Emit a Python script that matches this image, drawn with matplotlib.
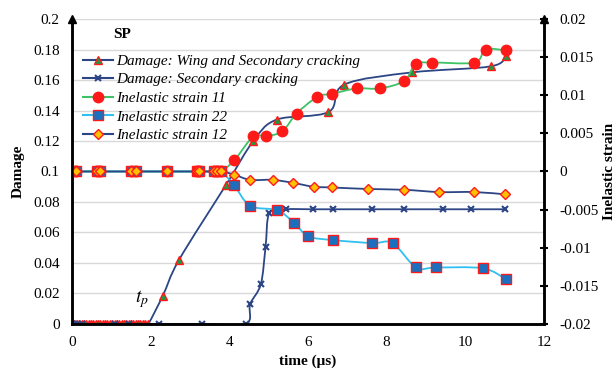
import matplotlib as mpl
mpl.use("Agg")
import matplotlib.pyplot as plt
from matplotlib.path import Path
from matplotlib.patches import PathPatch
from matplotlib.lines import Line2D
import numpy as np

mpl.rcParams["font.family"] = "Liberation Serif"
mpl.rcParams["mathtext.fontset"] = "stix"
mpl.rcParams["axes.unicode_minus"] = False

# Damage: wing and secondary cracking
wing_t = [0.00, 0.06, 0.12, 0.18, 0.24, 0.30, 0.36, 0.42, 0.48, 0.54, 0.60,
          0.66, 0.72, 0.78, 0.84, 0.90, 0.96, 1.02, 1.08, 1.14, 1.20, 1.26,
          1.32, 1.38, 1.44, 1.50, 1.56, 1.62, 1.68, 1.74, 1.80, 1.86, 1.94,
          2.31, 2.72, 3.91, 4.61, 5.20, 6.52, 6.92, 8.64, 10.65, 11.03]
wing_d = [0, 0, 0, 0, 0, 0, 0, 0, 0, 0, 0,
          0, 0, 0, 0, 0, 0, 0, 0, 0, 0, 0,
          0, 0, 0, 0, 0, 0, 0, 0, 0, 0, 0,
          0.0186, 0.042, 0.091, 0.120, 0.134, 0.139, 0.157, 0.165, 0.169, 0.176]

# Damage: secondary cracking
sec_t = [0.00, 0.06, 0.16, 0.25, 1.09, 1.46, 2.21, 3.31, 4.42, 4.53, 4.80,
         4.92, 5.02, 5.44, 6.12, 6.63, 7.64, 8.44, 9.44, 10.14, 11.01]
sec_d = [0, 0, 0, 0, 0, 0, 0, 0, 0, 0.0131, 0.026,
         0.0503, 0.073, 0.0752, 0.0752, 0.0752, 0.0752, 0.0752, 0.0752, 0.0752, 0.0752]

# Inelastic strains (right axis)
zero_t = [0.00, 0.10, 0.63, 0.71, 1.50, 1.63, 2.41, 3.17, 3.24, 3.61, 3.69, 3.80]
zero_v = [0, 0, 0, 0, 0, 0, 0, 0, 0, 0, 0, 0]

s11_t = zero_t + [4.13, 4.61, 4.93, 5.35, 5.71, 6.24, 6.62, 7.24, 7.83, 8.45,
                  8.74, 9.15, 10.23, 10.52, 11.03]
s11 = zero_v + [0.0015, 0.0046, 0.0046, 0.0053, 0.0076, 0.0098, 0.0102, 0.0109,
                0.0109, 0.0119, 0.0141, 0.0143, 0.0143, 0.0160, 0.0159]

s22_t = zero_t + [4.12, 4.53, 5.22, 5.64, 6.01, 6.63, 7.64, 8.15, 8.75, 9.25,
                  10.44, 11.03]
s22 = zero_v + [-0.0018, -0.0045, -0.0051, -0.0067, -0.0085, -0.0090, -0.0094,
                -0.0094, -0.0126, -0.0126, -0.0127, -0.0141]

s12_t = zero_t + [4.12, 4.53, 5.10, 5.63, 6.14, 6.62, 7.53, 8.44, 9.34, 10.23, 11.02]
s12 = zero_v + [-0.0004, -0.0011, -0.0011, -0.0015, -0.0020, -0.0021, -0.0023,
                -0.0024, -0.0027, -0.0027, -0.0030]

NAVY = "#2B4585"
GREEN = "#3DC365"
LBLUE = "#2EC0F0"
RED = "#FF1A1A"


# Excel-like smoothed line drawn as a bezier path through the points
def smooth_line(ax, xs, ys, color, lw=1.3):
    pts = np.column_stack([xs, ys]).astype(float)
    n = len(pts)
    verts = [pts[0]]
    codes = [Path.MOVETO]
    for i in range(n - 1):
        p0 = pts[i - 1] if i > 0 else pts[i]
        p1 = pts[i]
        p2 = pts[i + 1]
        p3 = pts[i + 2] if i + 2 < n else pts[i + 1]
        verts += [p1 + (p2 - p0) / 6, p2 - (p3 - p1) / 6, p2]
        codes += [Path.CURVE4] * 3
    ax.add_patch(PathPatch(Path(verts, codes), fill=False, edgecolor=color, lw=lw))


fig = plt.figure(figsize=(6.16, 3.74), dpi=100)
ax = fig.add_axes([0.117, 0.134, 0.766, 0.815])
ax2 = ax.twinx()

ax.set_xlim(0, 12)
ax.set_ylim(0, 0.2)
ax2.set_ylim(-0.02, 0.02)
ax.set_yticks(np.arange(0, 0.201, 0.02))
ax.set_yticklabels(["0", "0.02", "0.04", "0.06", "0.08", "0.1", "0.12", "0.14",
                    "0.16", "0.18", "0.2"])
ax2.set_yticks(np.arange(-0.02, 0.0201, 0.005))
ax2.set_yticklabels(["-0.02", "-0.015", "-0.01", "-0.005", "0", "0.005", "0.01",
                     "0.015", "0.02"])
ax.set_xticks(range(0, 13, 2))

ax.grid(axis="y", color="#D9D9D9", lw=1.0)
ax.set_axisbelow(True)

for a in (ax, ax2):
    a.spines["top"].set_visible(False)
    for s in ("left", "right", "bottom"):
        a.spines[s].set_linewidth(1.8)
        a.spines[s].set_color("black")
ax.tick_params(axis="y", length=0, pad=9, labelsize=11)
ax.tick_params(axis="x", length=0, pad=9, labelsize=11)
ax2.tick_params(axis="y", direction="inout", length=6, width=1.5, pad=8, labelsize=11)

# arrow heads on top of the vertical axes
for xa in (0, 1):
    ax.plot([xa], [1.0], marker="^", color="black", markersize=6,
            transform=ax.transAxes, clip_on=False, zorder=5)

# damage series
smooth_line(ax, wing_t, wing_d, NAVY)
ax.plot(wing_t, wing_d, ls="none", marker="^", ms=6, mfc="#1E9A40", mec=RED, mew=1.0)
smooth_line(ax, sec_t, sec_d, NAVY)
ax.plot(sec_t, sec_d, ls="none", marker="x", ms=5, mec=NAVY, mew=1.5)

# strain series
smooth_line(ax2, s11_t, s11, GREEN)
ax2.plot(s11_t, s11, ls="none", marker="o", ms=7.5, mfc=RED, mec=RED)
smooth_line(ax2, s22_t, s22, LBLUE)
ax2.plot(s22_t, s22, ls="none", marker="s", ms=6.5, mfc="#1A6FBF", mec=RED, mew=1.0)
smooth_line(ax2, s12_t, s12, NAVY)
ax2.plot(s12_t, s12, ls="none", marker="D", ms=5, mfc="#FFC000", mec=RED, mew=1.0)

handles = [
    Line2D([], [], color=NAVY, marker="^", ms=6, mfc="#1E9A40", mec=RED),
    Line2D([], [], color=NAVY, marker="x", ms=5, mec=NAVY, mew=1.5),
    Line2D([], [], color=GREEN, marker="o", ms=7.5, mfc=RED, mec=RED),
    Line2D([], [], color=LBLUE, marker="s", ms=6.5, mfc="#1A6FBF", mec=RED),
    Line2D([], [], color=NAVY, marker="D", ms=5, mfc="#FFC000", mec=RED),
]
labels = ["Damage: Wing and Secondary cracking", "Damage: Secondary cracking",
          "Inelastic strain 11", "Inelastic strain 22", "Inelastic strain 12"]
ax2.legend(handles, labels, loc="upper left", bbox_to_anchor=(0.0, 0.92),
           frameon=False, prop={"style": "italic", "size": 11},
           handlelength=2.0, handletextpad=0.2, labelspacing=0.32, borderaxespad=0.3)

ax.text(1.04, 0.19, "SP", fontsize=11, fontweight="bold", va="center")
ax.text(1.95, 0.016, "$t_p$", fontsize=14, ha="right", va="center")

ax.set_xlabel("time (\u03bcs)", fontsize=11, fontweight="bold", labelpad=4)
ax.set_ylabel("Damage", fontsize=11, fontweight="bold", labelpad=6)
ax2.set_ylabel("Inelastic strain", fontsize=11, fontweight="bold", labelpad=3)

fig.savefig("out.png", dpi=100)
